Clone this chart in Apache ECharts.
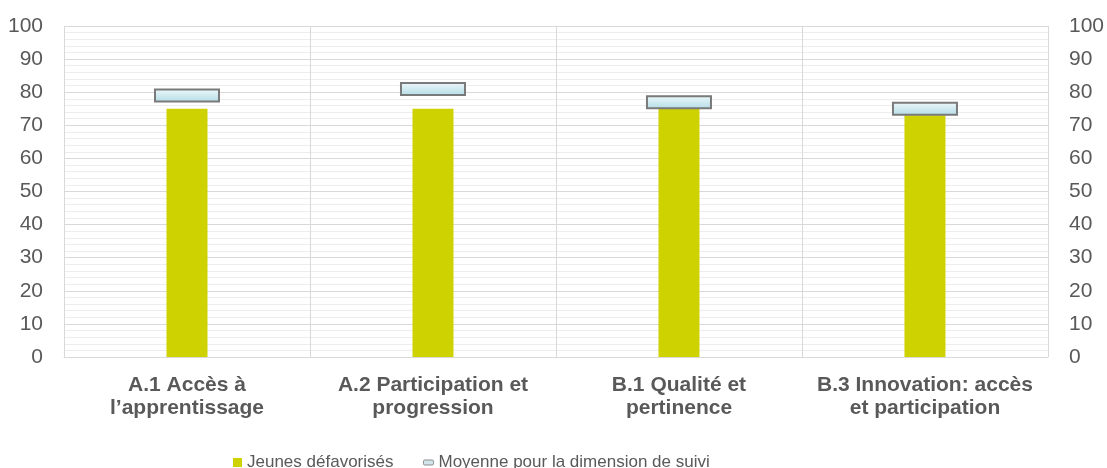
<!DOCTYPE html>
<html>
<head>
<meta charset="utf-8">
<script src="https://cdn.jsdelivr.net/npm/echarts@6/dist/echarts.min.js"></script>
<style>html,body{margin:0;padding:0;background:#fff}#c{width:1107px;height:468px}</style>
</head>
<body>
<div id="c"></div>
<script>
const categories = ['A.1 Accès à\nl’apprentissage', 'A.2 Participation et\nprogression', 'B.1 Qualité et\npertinence', 'B.3 Innovation: accès\net participation'];
const jeunes = [75, 75, 75, 73];
const moyenne = [79, 81, 77, 75];
const seriesNames = ['Jeunes défavorisés', 'Moyenne pour la dimension de suivi'];

const chart = echarts.init(document.getElementById('c'));
const font = '"Liberation Sans", Arial, sans-serif';
const markerFill = new echarts.graphic.LinearGradient(0, 0, 0, 1, [
  {offset: 0, color: '#eef8fa'}, {offset: 1, color: '#b3dce6'}
]);
const yAxisBase = {
  type: 'value', min: 0, max: 100, interval: 10,
  axisLine: {show: false}, axisTick: {show: false},
  axisLabel: {color: '#595959', fontSize: 21, fontFamily: font, margin: 21}
};
chart.setOption({
  animation: false,
  textStyle: {fontFamily: font},
  grid: {left: 64, right: 58, top: 26, bottom: 111, containLabel: false},
  legend: [
    {data: [seriesNames[0]], left: 228, top: 449, itemWidth: 9, itemHeight: 9, icon: 'rect',
     textStyle: {color: '#595959', fontSize: 17, fontFamily: font}},
    {data: [seriesNames[1]], left: 418, top: 449, itemWidth: 10, itemHeight: 5, icon: 'roundRect',
     itemStyle: {color: '#cfe5eb', borderColor: '#8c8c8c', borderWidth: 1},
     textStyle: {color: '#595959', fontSize: 17, fontFamily: font}}
  ],
  xAxis: {
    type: 'category', data: categories,
    axisLine: {show: true, lineStyle: {color: '#d9d9d9', width: 1}},
    axisTick: {show: false},
    splitLine: {show: true, lineStyle: {color: '#d9d9d9', width: 1}},
    axisLabel: {color: '#595959', fontSize: 21, fontWeight: 'bold', fontFamily: font, margin: 17, lineHeight: 23, interval: 0}
  },
  yAxis: [
    Object.assign({}, yAxisBase, {
      position: 'left',
      splitLine: {show: true, lineStyle: {color: '#d9d9d9', width: 1}},
      minorTick: {show: false, splitNumber: 5},
      minorSplitLine: {show: true, lineStyle: {color: '#ededed', width: 1}}
    }),
    Object.assign({}, yAxisBase, {position: 'right', splitLine: {show: false}})
  ],
  series: [
    {
      name: seriesNames[0], type: 'bar', data: jeunes, barWidth: 41,
      itemStyle: {color: '#cdd200'}, z: 2
    },
    {
      name: seriesNames[1], type: 'custom', z: 5,
      itemStyle: {color: '#cfe5eb', borderColor: '#808080'},
      encode: {x: 0, y: 1},
      renderItem: function (params, api) {
        const p = api.coord([api.value(0), api.value(1)]);
        const w = 64, h = 12;
        return {
          type: 'rect',
          shape: {x: p[0] - w / 2, y: p[1] - h / 2, width: w, height: h},
          style: {fill: markerFill, stroke: '#7a7a7a', lineWidth: 2}
        };
      },
      dimensions: ['x', 'y'],
      data: moyenne.map((v, i) => [i, v])
    }
  ]
});
</script>
</body>
</html>
